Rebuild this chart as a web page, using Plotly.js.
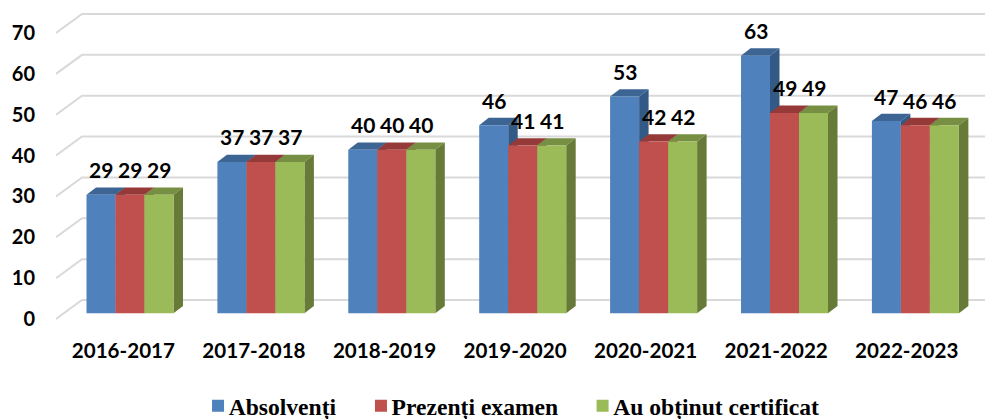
<!DOCTYPE html>
<html>
<head>
<meta charset="utf-8">
<script src="https://cdn.plot.ly/plotly-3.0.1.min.js"></script>
<style>html,body{margin:0;padding:0;background:#fff}</style>
</head>
<body>
<div id="chart" style="width:987px;height:419px"></div>
<script>
var categories = ['2016-2017','2017-2018','2018-2019','2019-2020','2020-2021','2021-2022','2022-2023'];
var absolventi = [29,37,40,46,53,63,47];
var prezenti   = [29,37,40,41,42,49,46];
var certificat = [29,37,40,41,42,49,46];
var seriesNames = ['Absolvenți','Prezenți examen','Au obținut certificat'];
var yTicks = [0,10,20,30,40,50,60,70];

var seriesValues = [absolventi, prezenti, certificat];
var frontColors = ['#4f81bd','#c0504d','#9bbb59'];
var topColors   = ['#3d6594','#953a38','#768f43'];
var sideColors  = ['#335a87','#7f312f','#677a38'];

var BARGAP = 0.3354;
var barW = (1 - BARGAP) / 3;
var barDX = 9.5 / 130.9, barDY = 7.3 / 4.09;   // bar depth on x2/y2 scale
var wallDX = 26 / 130.55, wallDY = 19 / 4.086; // floor depth on x/y scale
var xRange  = [-0.5163, 6.5997];
var x2Range = [-0.5653, 6.5317];
var yRange  = [-1.468, 75.62];
var y2Range = [-2.86, 74.16];

var shapes = [];
yTicks.forEach(function (t) {
  var x0 = xRange[0], x1 = x0 + wallDX, x2 = xRange[1], yb = t + wallDY;
  shapes.push({type:'path', xref:'x', yref:'y', layer:'below',
    path:'M'+x0+','+t+' L'+x1+','+yb+' L'+x2+','+yb,
    line:{color:'#d9d9d9', width:2}, fillcolor:'rgba(0,0,0,0)'});
});
categories.forEach(function (c, i) {
  seriesValues.forEach(function (vals, s) {
    var l = i + (s - 1.5) * barW, r = l + barW, v = vals[i];
    shapes.push({type:'path', xref:'x2', yref:'y2', layer:'below', line:{width:0}, fillcolor:topColors[s],
      path:'M'+l+','+v+' L'+r+','+v+' L'+(r+barDX)+','+(v+barDY)+' L'+(l+barDX)+','+(v+barDY)+' Z'});
    shapes.push({type:'path', xref:'x2', yref:'y2', layer:'below', line:{width:0}, fillcolor:sideColors[s],
      path:'M'+r+',0 L'+r+','+v+' L'+(r+barDX)+','+(v+barDY)+' L'+(r+barDX)+','+barDY+' Z'});
  });
});

var annotations = [];
seriesValues.forEach(function (vals, s) {
  vals.forEach(function (v, i) {
    annotations.push({xref:'x2', yref:'y2', x:i + (s - 1) * barW, y:v, yshift:25, showarrow:false,
      text:String(v), xanchor:'center', yanchor:'middle',
      font:{family:'Lato, sans-serif', size:21, color:'#000', weight:700}});
  });
});

var traces = [{type:'scatter', mode:'lines', x:[0,6], y:[0,70], xaxis:'x', yaxis:'y',
  line:{width:0}, showlegend:false, hoverinfo:'skip'}];
seriesValues.forEach(function (vals, s) {
  traces.push({type:'bar', name:seriesNames[s], x:categories, y:vals, xaxis:'x2', yaxis:'y2',
    marker:{color:frontColors[s], line:{width:0}}});
});

var layout = {
  width:987, height:419, autosize:false,
  margin:{l:56, r:2, t:10, b:94, pad:0, autoexpand:false},
  paper_bgcolor:'#fff', plot_bgcolor:'rgba(0,0,0,0)',
  barmode:'group', bargap:BARGAP, bargroupgap:0,
  showlegend:true,
  legend:{orientation:'h', x:0.132, xanchor:'left', y:-0.257, yanchor:'middle', itemwidth:40,
    font:{family:'Liberation Serif, serif', size:23.6, color:'#000', weight:700}, bgcolor:'rgba(0,0,0,0)'},
  xaxis:{type:'linear', range:xRange, tickmode:'array', tickvals:[0,1,2,3,4,5,6], ticktext:categories,
    showgrid:false, zeroline:false, showline:false, ticks:'',
    tickfont:{family:'Lato, sans-serif', size:20.6, color:'#000', weight:700}, ticklabelstandoff:11},
  yaxis:{type:'linear', range:yRange, tickmode:'array', tickvals:yTicks,
    showgrid:false, zeroline:false, showline:false, ticks:'',
    tickfont:{family:'Lato, sans-serif', size:20, color:'#000', weight:700}, ticklabelstandoff:20},
  xaxis2:{type:'category', categoryorder:'array', categoryarray:categories, range:x2Range, overlaying:'x', anchor:'y2', visible:false},
  yaxis2:{type:'linear', range:y2Range, overlaying:'y', anchor:'x2', visible:false},
  shapes:shapes, annotations:annotations
};
Plotly.newPlot('chart', traces, layout, {displayModeBar:false, staticPlot:true}).then(function () {
  // swatches sit closer to their text than the legend's default gap allows
  document.querySelectorAll('#chart .legend .legendsymbols').forEach(function (g) {
    g.setAttribute('transform', 'translate(14.4,0)');
  });
});
</script>
</body>
</html>
